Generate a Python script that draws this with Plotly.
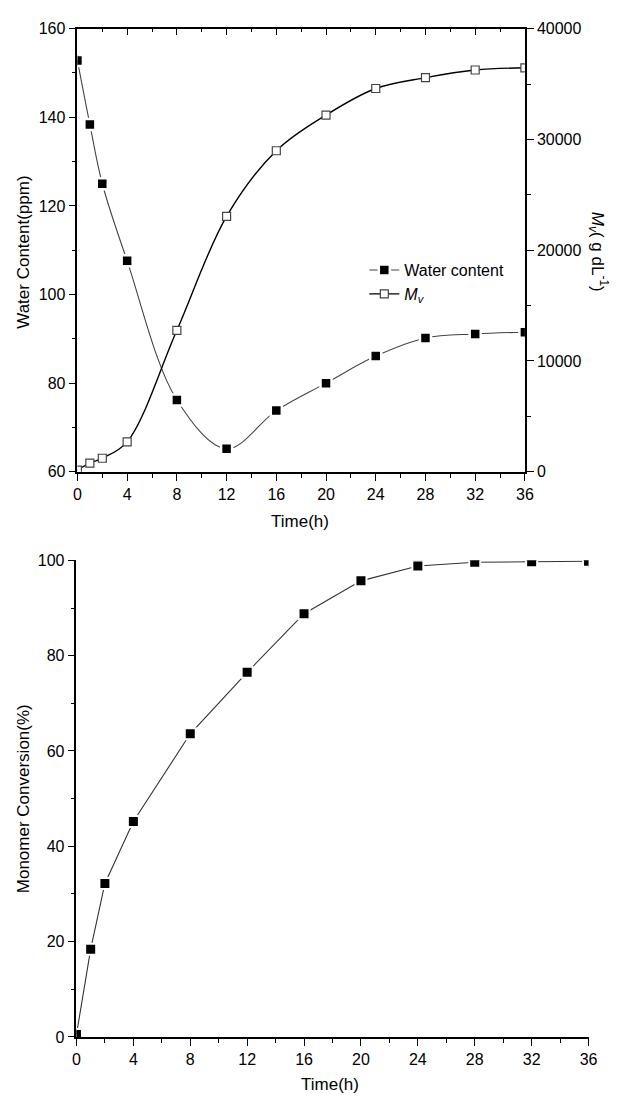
import plotly.graph_objects as go

# ---- data ----
time_top = [0, 1, 2, 4, 8, 12, 16, 20, 24, 28, 32, 36]
water_content = [152.8, 138.4, 125.0, 107.6, 76.2, 65.2, 73.8, 80.0, 86.1, 90.2, 91.1, 91.5]
mv = [150, 770, 1220, 2700, 12770, 23050, 28980, 32200, 34600, 35580, 36270, 36470]

time_bot = [0, 1, 2, 4, 8, 12, 16, 20, 24, 28, 32, 36]
conversion = [0.5, 18.4, 32.2, 45.2, 63.6, 76.5, 88.8, 95.7, 98.8, 99.6, 99.7, 99.8]

W, H = 623, 1103
FONT = "Liberation Sans, Arial, sans-serif"

def px_x(p):
    return p / W

def px_y(p):
    return 1 - p / H

fig = go.Figure()

fig.add_trace(go.Scatter(
    x=time_top, y=water_content, name="Water content", mode="lines+markers",
    line=dict(color="#444444", width=1.1, shape="spline", smoothing=1),
    marker=dict(symbol="square", size=11, color="black", line=dict(color="white", width=2.5)),
    xaxis="x", yaxis="y"))

fig.add_trace(go.Scatter(
    x=time_top, y=mv, name="<i>M<sub>v</sub></i>", mode="lines+markers",
    line=dict(color="black", width=1.4, shape="spline", smoothing=1),
    marker=dict(symbol="square", size=8, color="white", line=dict(color="#444444", width=1.2)),
    xaxis="x", yaxis="y2"))

# invisible trace for top mirrored axis
fig.add_trace(go.Scatter(x=[0], y=[60], mode="markers", marker=dict(opacity=0),
                         showlegend=False, hoverinfo="skip", xaxis="x3", yaxis="y"))

fig.add_trace(go.Scatter(
    x=time_bot, y=conversion, mode="lines+markers", showlegend=False,
    line=dict(color="#333333", width=1.1),
    marker=dict(symbol="square", size=11, color="black", line=dict(color="white", width=2)),
    xaxis="x2", yaxis="y3"))

tick_font = dict(family=FONT, size=16, color="black")
common = dict(showgrid=False, zeroline=False, showline=True, linecolor="black", linewidth=1.6,
              ticks="outside", ticklen=7, tickwidth=1.4, tickcolor="black", tickfont=tick_font)

top_x_dom = [px_x(75), px_x(532)]
top_y_dom = [px_y(471), px_y(21)]
bot_x_dom = [px_x(74), px_x(597)]
bot_y_dom = [px_y(1045), px_y(561)]

fig.update_layout(
    width=W, height=H,
    margin=dict(l=0, r=0, t=0, b=0),
    paper_bgcolor="white", plot_bgcolor="white",
    font=dict(family=FONT, color="black"),
    xaxis=dict(domain=top_x_dom, anchor="y", range=[0, 36], tickmode="linear", tick0=0, dtick=4,
               minor=dict(dtick=2, ticklen=4, tickwidth=1.2, tickcolor="black", ticks="outside"),
               **common),
    xaxis3=dict(domain=top_x_dom, anchor="y", overlaying="x", side="top", range=[0, 36],
                showgrid=False, zeroline=False, showline=True, linecolor="black", linewidth=1.6,
                ticks="inside", ticklen=7, tickwidth=1.4, tickcolor="black",
                tickmode="linear", tick0=0, dtick=4, showticklabels=False,
                minor=dict(dtick=2, ticklen=4, tickwidth=1.2, tickcolor="black", ticks="inside")),
    yaxis=dict(domain=top_y_dom, anchor="x", range=[60, 160], tickmode="linear", tick0=60, dtick=20,
               minor=dict(dtick=10, ticklen=4, tickwidth=1.2, tickcolor="black", ticks="outside"),
               **common),
    yaxis2=dict(domain=top_y_dom, anchor="x", overlaying="y", side="right", range=[0, 40000],
                tickmode="linear", tick0=0, dtick=10000, tickformat="d",
                minor=dict(dtick=5000, ticklen=4, tickwidth=1.2, tickcolor="black", ticks="outside"),
                **common),
    xaxis2=dict(domain=bot_x_dom, anchor="y3", range=[0, 36], tickmode="linear", tick0=0, dtick=4,
                minor=dict(dtick=2, ticklen=4, tickwidth=1.2, tickcolor="black", ticks="outside"),
                **common),
    yaxis3=dict(domain=bot_y_dom, anchor="x2", range=[0, 100], tickmode="linear", tick0=0, dtick=20,
                minor=dict(dtick=10, ticklen=4, tickwidth=1.2, tickcolor="black", ticks="outside"),
                **common),
    legend=dict(x=px_x(368), y=px_y(249), xanchor="left", yanchor="top",
                bgcolor="rgba(0,0,0,0)", font=dict(family=FONT, size=16, color="black"),
                tracegroupgap=0, itemwidth=30),
    showlegend=True,
)

title_font = dict(family=FONT, size=17, color="black")
ann = [
    dict(text="Water Content(ppm)", x=px_x(20), y=px_y(248), textangle=-90),
    dict(text="<i>M</i><sub><i>v</i></sub>( g dL<sup>-1</sup>)", x=px_x(607), y=px_y(248), textangle=90),
    dict(text="Time(h)", x=px_x(302), y=px_y(522), textangle=0),
    dict(text="Monomer Conversion(%)", x=px_x(20), y=px_y(803), textangle=-90),
    dict(text="Time(h)", x=px_x(333), y=px_y(1093), textangle=0),
]
for a in ann:
    fig.add_annotation(xref="paper", yref="paper", showarrow=False, xanchor="center",
                       yanchor="middle", font=title_font, **a)

fig.write_html("out.html", config=dict(displayModeBar=False),
               post_script="document.body.style.margin='0';document.body.style.overflow='hidden';")
